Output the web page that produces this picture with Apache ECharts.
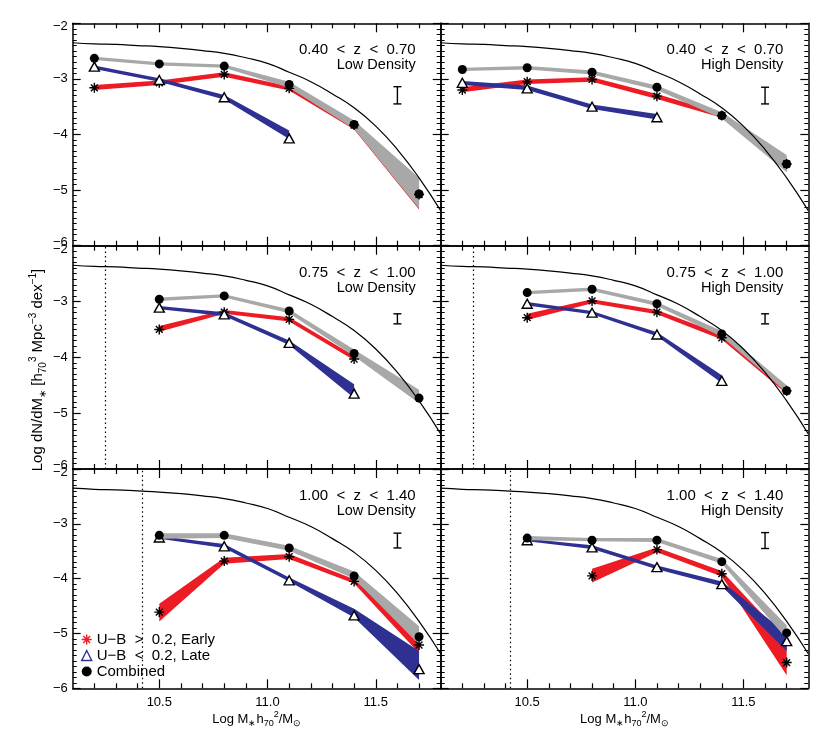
<!DOCTYPE html>
<html><head><meta charset="utf-8">
<script src="https://cdn.jsdelivr.net/npm/echarts@6/dist/echarts.min.js"></script>
<style>html,body{margin:0;padding:0;background:#fff}#c{width:830px;height:738px}</style>
</head><body><div id="c"></div>
<script>
// ---------------- DATA ----------------
const massBins = [10.2, 10.5, 10.8, 11.1, 11.4, 11.7];
const curveMass = [10.1,10.2,10.3,10.4,10.5,10.6,10.7,10.8,10.9,11.0,11.1,11.2,11.3,11.4,11.5,11.6,11.7,11.8];
const curveLogPhi = [-2.35,-2.37,-2.38,-2.40,-2.42,-2.45,-2.49,-2.54,-2.62,-2.72,-2.88,-3.05,-3.27,-3.52,-3.85,-4.27,-4.78,-5.37];
const xMajorTicks = [10.5, 11.0, 11.5];
const xMinorTicks = [10.2,10.3,10.4,10.6,10.7,10.8,10.9,11.1,11.2,11.3,11.4,11.6,11.7];
const zRanges = ['0.40  <  z  <  0.70','0.40  <  z  <  0.70','0.75  <  z  <  1.00','0.75  <  z  <  1.00','1.00  <  z  <  1.40','1.00  <  z  <  1.40'];
const densities = ['Low Density','High Density','Low Density','High Density','Low Density','High Density'];
const completenessLimit = [null, null, 10.25, 10.25, 10.42, 10.42];
const errBarMass = 11.6;
const errBarHi = [-3.14,-3.15,-3.22,-3.22,-3.17,-3.16];
const errBarLo = [-3.45,-3.45,-3.40,-3.40,-3.44,-3.45];

// panels: 0 TL, 1 TR, 2 ML, 3 MR, 4 BL, 5 BR
const combined = [
  [-2.63,-2.73,-2.77,-3.10,-3.82,-5.07],
  [-2.83,-2.80,-2.88,-3.15,-3.66,-4.53],
  [null,-2.96,-2.90,-3.17,-3.93,-4.73],
  [null,-2.84,-2.78,-3.04,-3.58,-4.60],
  [null,-3.21,-3.21,-3.44,-3.95,-5.06],
  [null,-3.26,-3.30,-3.30,-3.69,-4.99]];
const combinedHi = [
  [-2.60,-2.70,-2.74,-3.05,-3.75,-4.78],
  [-2.80,-2.77,-2.85,-3.12,-3.60,-4.37],
  [null,-2.93,-2.87,-3.14,-3.86,-4.58],
  [null,-2.81,-2.75,-3.01,-3.53,-4.50],
  [null,-3.17,-3.17,-3.40,-3.87,-4.87],
  [null,-3.22,-3.26,-3.26,-3.64,-4.85]];
const combinedLo = [
  [-2.66,-2.76,-2.80,-3.16,-3.90,-5.33],
  [-2.86,-2.83,-2.92,-3.20,-3.71,-4.68],
  [null,-2.99,-2.93,-3.21,-3.98,-4.82],
  [null,-2.87,-2.81,-3.08,-3.63,-4.63],
  [null,-3.27,-3.26,-3.49,-4.00,-5.20],
  [null,-3.30,-3.32,-3.33,-3.73,-5.10]];
const early = [
  [-3.16,-3.07,-2.92,-3.17,-3.83,-5.08],
  [-3.20,-3.05,-3.01,-3.31,-3.66,-4.53],
  [null,-3.50,-3.19,-3.32,-4.03,null],
  [null,-3.29,-2.99,-3.19,-3.65,-4.60],
  [null,-4.61,-3.68,-3.60,-4.05,-5.21],
  [null,null,-3.95,-3.47,-3.91,-5.53]];
const earlyHi = [
  [-3.11,-3.03,-2.88,-3.13,-3.78,-4.81],
  [-3.15,-3.01,-2.97,-3.27,-3.62,-4.42],
  [null,-3.44,-3.15,-3.28,-3.97,null],
  [null,-3.22,-2.96,-3.15,-3.59,-4.52],
  [null,-4.46,-3.62,-3.55,-4.01,-5.10],
  [null,null,-3.82,-3.43,-3.86,-5.13]];
const earlyLo = [
  [-3.20,-3.11,-2.96,-3.21,-3.91,-5.35],
  [-3.24,-3.09,-3.05,-3.36,-3.70,-4.67],
  [null,-3.54,-3.22,-3.36,-4.05,null],
  [null,-3.33,-3.03,-3.23,-3.68,-4.65],
  [null,-4.78,-3.73,-3.64,-4.09,-5.36],
  [null,null,-4.07,-3.52,-3.96,-5.76]];
const late = [
  [-2.78,-3.02,-3.33,-4.07,null,null],
  [-3.07,-3.17,-3.50,-3.69,null,null],
  [null,-3.11,-3.23,-3.74,-4.65,null],
  [null,-3.04,-3.20,-3.59,-4.42,null],
  [null,-3.25,-3.41,-4.03,-4.67,-5.65],
  [null,-3.30,-3.43,-3.79,-4.10,-5.14]];
const lateHi = [
  [-2.76,-2.99,-3.29,-3.93,null,null],
  [-3.04,-3.12,-3.46,-3.63,null,null],
  [null,-3.08,-3.19,-3.70,-4.48,null],
  [null,-3.01,-3.17,-3.55,-4.32,null],
  [null,-3.22,-3.37,-3.98,-4.55,-5.32],
  [null,-3.27,-3.39,-3.76,-4.05,-5.00]];
const lateLo = [
  [-2.82,-3.05,-3.37,-4.08,null,null],
  [-3.11,-3.20,-3.54,-3.73,null,null],
  [null,-3.14,-3.26,-3.78,-4.73,null],
  [null,-3.07,-3.23,-3.62,-4.46,null],
  [null,-3.27,-3.44,-4.05,-4.71,-5.85],
  [null,-3.32,-3.46,-3.83,-4.14,-5.32]];

const nameEarly = 'U\u2212B  >  0.2, Early';
const nameLate = 'U\u2212B  <  0.2, Late';
const nameComb = 'Combined';

// ---------------- LAYOUT / STYLE ----------------
const FONT = '"Liberation Sans", Arial, Helvetica, sans-serif';
const RED = '#ed1c24', BLUE = '#2e3192', GRAY = '#a8a8a8';
const colLeft = [72.7, 440.7], colWidth = [368, 367.6];
const rowTop = [23.3, 245.7, 469], rowHeight = [222.4, 223.3, 219.3];
const ASTERISK = 'path://M5,0L5,10M0,5L10,5M1.6,1.6L8.4,8.4M1.6,8.4L8.4,1.6';

const grids = [], xAxes = [], yAxes = [], series = [], graphics = [];

function bandSeries(p, hi, lo, color, z) {
  const pts = massBins.map((m, i) => [m, hi[i], lo[i]]).filter(d => d[1] != null);
  return {
    type: 'custom', xAxisIndex: 4 * p, yAxisIndex: 2 * p, silent: true, clip: true, z: z,
    data: pts, encode: { x: 0, y: [1, 2] },
    renderItem: function (params, api) {
      if (params.dataIndex !== 0) return null;
      const top = pts.map(d => api.coord([d[0], d[1]]));
      const bot = pts.map(d => api.coord([d[0], d[2]])).reverse();
      return { type: 'polygon', shape: { points: top.concat(bot) }, style: { fill: color } };
    }
  };
}
function pointsOf(vals) {
  return massBins.map((m, i) => [m, vals[i]]).filter(d => d[1] != null);
}

for (let p = 0; p < 6; p++) {
  const row = Math.floor(p / 2), col = p % 2;
  grids.push({ left: colLeft[col], top: rowTop[row], width: colWidth[col], height: rowHeight[row], outerBoundsMode: 'none', containLabel: false });
  const baseX = { type: 'value', gridIndex: p, min: 10.1, max: 11.8, splitLine: { show: false } };
  xAxes.push(Object.assign({}, baseX, { position: 'bottom',
    axisLine: { show: true, lineStyle: { color: '#000', width: 1.5 } },
    axisTick: { show: true, inside: true, length: 9, customValues: xMajorTicks, lineStyle: { color: '#000', width: 1.2 } },
    axisLabel: { show: row === 2, customValues: xMajorTicks, margin: 8, color: '#000', fontSize: 13, fontFamily: FONT, formatter: v => v.toFixed(1) } }));
  xAxes.push(Object.assign({}, baseX, { position: 'bottom', axisLine: { show: false },
    axisTick: { show: true, inside: true, length: 5, customValues: xMinorTicks, lineStyle: { color: '#000', width: 1.2 } },
    axisLabel: { show: false } }));
  xAxes.push(Object.assign({}, baseX, { position: 'top',
    axisLine: { show: true, lineStyle: { color: '#000', width: 1.5 } },
    axisTick: { show: true, inside: true, length: 9, customValues: xMajorTicks, lineStyle: { color: '#000', width: 1.2 } },
    axisLabel: { show: false } }));
  xAxes.push(Object.assign({}, baseX, { position: 'top', axisLine: { show: false },
    axisTick: { show: true, inside: true, length: 5, customValues: xMinorTicks, lineStyle: { color: '#000', width: 1.2 } },
    axisLabel: { show: false } }));
  const baseY = { type: 'value', gridIndex: p, min: -6, max: -2, interval: 1, splitLine: { show: false },
    axisLine: { show: true, lineStyle: { color: '#000', width: 1.5 } },
    axisTick: { show: true, inside: true, length: 8, lineStyle: { color: '#000', width: 1.2 } },
    minorTick: { show: true, splitNumber: 10, length: 4, lineStyle: { color: '#000', width: 1 } },
    minorSplitLine: { show: false } };
  yAxes.push(Object.assign({}, baseY, { position: 'left',
    axisLabel: { show: col === 0, margin: 5, color: '#000', fontSize: 13, fontFamily: FONT,
      formatter: function (v) {
        const key = (v === -2) ? 'hi' : ((v === -6 && row < 2) ? 'lo' : 'n');
        return '{' + key + '|\u2212' + Math.abs(v) + '}';
      },
      rich: { n: { fontSize: 13, fontFamily: FONT, color: '#000' },
        hi: { fontSize: 13, fontFamily: FONT, color: '#000', padding: [7, 0, 0, 0] },
        lo: { fontSize: 13, fontFamily: FONT, color: '#000', padding: [0, 0, 7, 0] } } } }));
  yAxes.push(Object.assign({}, baseY, { position: 'right', axisLabel: { show: false } }));

  // bands (early, late, combined)
  series.push(bandSeries(p, earlyHi[p], earlyLo[p], RED, 1));
  series.push(bandSeries(p, lateHi[p], lateLo[p], BLUE, 2));
  series.push(bandSeries(p, combinedHi[p], combinedLo[p], GRAY, 3));

  // reference curve + completeness limit
  const curve = { type: 'line', xAxisIndex: 4 * p, yAxisIndex: 2 * p, z: 4, silent: true,
    data: curveMass.map((m, i) => [m, curveLogPhi[i]]), showSymbol: false, smooth: true, clip: true,
    lineStyle: { color: '#000', width: 1.2 } };
  if (completenessLimit[p] != null) {
    curve.markLine = { silent: true, symbol: ['none', 'none'], label: { show: false },
      lineStyle: { type: [1.5, 3], color: '#000', width: 1.2 }, data: [{ xAxis: completenessLimit[p] }] };
  }
  series.push(curve);

  // typical error bar
  series.push({ type: 'custom', xAxisIndex: 4 * p, yAxisIndex: 2 * p, silent: true, z: 5,
    data: [[errBarMass, errBarHi[p], errBarLo[p]]], encode: { x: 0, y: [1, 2] },
    renderItem: function (params, api) {
      const a = api.coord([api.value(0), api.value(1)]), b = api.coord([api.value(0), api.value(2)]);
      const s = { stroke: '#000', lineWidth: 1.4 };
      return { type: 'group', children: [
        { type: 'line', shape: { x1: a[0], y1: a[1], x2: b[0], y2: b[1] }, style: s },
        { type: 'line', shape: { x1: a[0] - 4, y1: a[1], x2: a[0] + 4, y2: a[1] }, style: s },
        { type: 'line', shape: { x1: b[0] - 4, y1: b[1], x2: b[0] + 4, y2: b[1] }, style: s } ] };
    } });

  // markers
  series.push({ name: nameEarly, type: 'scatter', xAxisIndex: 4 * p, yAxisIndex: 2 * p, z: 6, silent: true,
    data: pointsOf(early[p]), symbol: ASTERISK, symbolSize: 10,
    itemStyle: { color: 'rgba(0,0,0,0)', borderColor: '#000', borderWidth: 1.4, opacity: 1 } });
  series.push({ name: nameLate, type: 'scatter', xAxisIndex: 4 * p, yAxisIndex: 2 * p, z: 6, silent: true,
    data: pointsOf(late[p]), symbol: 'triangle', symbolSize: [10, 9],
    itemStyle: { color: '#fff', borderColor: '#000', borderWidth: 1.4, opacity: 1 } });
  series.push({ name: nameComb, type: 'scatter', xAxisIndex: 4 * p, yAxisIndex: 2 * p, z: 7, silent: true,
    data: pointsOf(combined[p]), symbol: 'circle', symbolSize: 9, itemStyle: { color: '#000', opacity: 1 } });

  // panel labels
  const rx = colLeft[col] + colWidth[col] - 25;
  graphics.push({ type: 'text', x: rx, y: rowTop[row] + 27, z: 10,
    style: { text: zRanges[p], fill: '#000', font: '15px ' + FONT, align: 'right', verticalAlign: 'middle' } });
  graphics.push({ type: 'text', x: rx, y: rowTop[row] + 42, z: 10,
    style: { text: densities[p], fill: '#000', font: '14.5px ' + FONT, align: 'right', verticalAlign: 'middle' } });
}

// axis titles
const richY = {
  b: { fontSize: 15, fontFamily: FONT, fill: '#000', color: '#000', lineHeight: 20, verticalAlign: 'middle' },
  sup: { fontSize: 10, fontFamily: FONT, fill: '#000', color: '#000', lineHeight: 10, verticalAlign: 'top' },
  sub: { fontSize: 10, fontFamily: FONT, fill: '#000', color: '#000', lineHeight: 10, verticalAlign: 'bottom' }
};
const richX = {
  b: { fontSize: 13, fontFamily: FONT, fill: '#000', color: '#000', lineHeight: 18, verticalAlign: 'middle' },
  sup: { fontSize: 9, fontFamily: FONT, fill: '#000', color: '#000', lineHeight: 9, verticalAlign: 'top' },
  sub: { fontSize: 9, fontFamily: FONT, fill: '#000', color: '#000', lineHeight: 9, verticalAlign: 'bottom' }
};
graphics.push({ type: 'text', x: 38, y: 370, rotation: Math.PI / 2, z: 10,
  style: { text: '{b|Log dN/dM}{sub|\u2217}{b| [h}{sub|70}{sup|3}{b| Mpc}{sup|\u22123}{b| dex}{sup|\u22121}{b|]}',
    rich: richY, align: 'center', verticalAlign: 'middle', fill: '#000' } });
[0, 1].forEach(function (col) {
  graphics.push({ type: 'text', x: colLeft[col] + colWidth[col] / 2, y: 719, z: 10,
    style: { text: '{b|Log M}{sub|\u2217}{b|h}{sub|70}{sup|2}{b|/M}{sub|\u2299}', rich: richX,
      align: 'center', verticalAlign: 'middle', fill: '#000' } });
});

const chart = echarts.init(document.getElementById('c'), null, { renderer: 'canvas' });
chart.setOption({
  animation: false, backgroundColor: '#fff',
  grid: grids, xAxis: xAxes, yAxis: yAxes, series: series, graphic: graphics,
  legend: { left: 81, top: 632, orient: 'vertical', itemGap: 1, itemWidth: 10, itemHeight: 10,
    selectedMode: false, padding: 0,
    textStyle: { fontSize: 15, fontFamily: FONT, color: '#000', lineHeight: 15 },
    data: [
      { name: nameEarly, icon: ASTERISK, itemStyle: { color: 'rgba(0,0,0,0)', borderColor: RED, borderWidth: 1.4 } },
      { name: nameLate, icon: 'triangle', itemStyle: { color: '#fff', borderColor: BLUE, borderWidth: 1.4 } },
      { name: nameComb, icon: 'circle', itemStyle: { color: '#000', borderColor: '#000', borderWidth: 0 } } ] }
});
</script></body></html>
